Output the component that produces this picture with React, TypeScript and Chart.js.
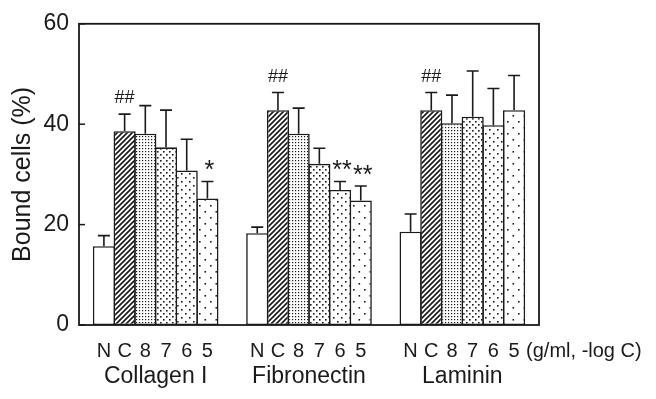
import React, { useEffect, useRef } from 'react';
import { Chart, registerables } from 'chart.js';

Chart.register(...registerables);

const groups = ['Collagen I', 'Fibronectin', 'Laminin'];
const conditions = ['N', 'C', '8', '7', '6', '5'];
const unitLabel = '(g/ml, -log C)';
const yTitle = 'Bound cells (%)';
const yTickValues = [0, 20, 40, 60];

// mean values per group, in condition order N, C, 8, 7, 6, 5
const collagenMean = [15.7, 38.6, 38.1, 35.4, 30.8, 25.2];
const fibronectinMean = [18.3, 42.8, 38.1, 32.1, 26.9, 24.8];
const lamininMean = [18.6, 42.8, 40.2, 41.5, 39.8, 42.8];

// upward error (SD)
const collagenErr = [2.1, 3.4, 5.6, 7.4, 6.2, 3.4];
const fibronectinErr = [1.2, 3.5, 5.1, 3.1, 1.7, 2.9];
const lamininErr = [3.5, 3.5, 5.6, 9.1, 7.3, 6.9];

// significance marks
const collagenMarks = ['', '##', '', '', '', '*'];
const fibronectinMarks = ['', '##', '', '', '**', '**'];
const lamininMarks = ['', '##', '', '', '', ''];

const means = [collagenMean, fibronectinMean, lamininMean];
const errs = [collagenErr, fibronectinErr, lamininErr];
const marks = [collagenMarks, fibronectinMarks, lamininMarks];

const FONT = '"Liberation Sans", Arial, Helvetica, sans-serif';
const INK = '#1a1a1a';

function makePattern(kind: string): CanvasPattern | string {
  if (kind === 'none') return '#ffffff';
  const c = document.createElement('canvas');
  let w = 6;
  let h = 6;
  if (kind === 'hatch') { w = 5; h = 5; }
  if (kind === 'dense') { w = 3; h = 3; }
  if (kind === 'mid') { w = 6; h = 6; }
  if (kind === 'sparse') { w = 8; h = 8; }
  if (kind === 'sparser') { w = 11; h = 12; }
  c.width = w;
  c.height = h;
  const g = c.getContext('2d')!;
  g.fillStyle = '#ffffff';
  g.fillRect(0, 0, w, h);
  g.fillStyle = INK;
  g.strokeStyle = INK;
  if (kind === 'hatch') {
    g.lineWidth = 1.6;
    g.beginPath();
    for (let k = -1; k <= 1; k++) {
      g.moveTo(k * w - 1, h + 1);
      g.lineTo(k * w + w + 1, -1);
    }
    g.stroke();
  } else if (kind === 'dense') {
    g.fillRect(1, 1, 1.2, 1.2);
  } else {
    g.fillRect(1, 1, 1.6, 1.6);
    g.fillRect(w / 2 + 1, h / 2 + 1, 1.6, 1.6);
  }
  return g.createPattern(c, 'repeat')!;
}

const patternKinds = ['none', 'hatch', 'dense', 'mid', 'sparse', 'sparser'];

const overlayPlugin = {
  id: 'overlay',
  afterDatasetsDraw(chart: any) {
    const { ctx, chartArea } = chart;
    const yScale = chart.scales.y;
    ctx.save();
    ctx.strokeStyle = INK;
    ctx.fillStyle = INK;

    // error bars and marks
    conditions.forEach((_, di) => {
      const meta = chart.getDatasetMeta(di);
      meta.data.forEach((bar: any, gi: number) => {
        const m = means[gi][di];
        const e = errs[gi][di];
        const yTop = yScale.getPixelForValue(m);
        const yErr = yScale.getPixelForValue(m + e);
        ctx.lineWidth = 1.6;
        ctx.beginPath();
        ctx.moveTo(bar.x, yTop);
        ctx.lineTo(bar.x, yErr);
        ctx.moveTo(bar.x - 6, yErr);
        ctx.lineTo(bar.x + 6, yErr);
        ctx.stroke();
        const mk = marks[gi][di];
        if (mk) {
          ctx.textAlign = 'center';
          ctx.textBaseline = 'middle';
          if (mk === '##') {
            ctx.font = `18px ${FONT}`;
            ctx.fillText(mk, bar.x, yErr - 16);
          } else {
            ctx.font = `25px ${FONT}`;
            ctx.fillText(mk, bar.x + 2, yErr - 10);
          }
        }
      });
    });

    // frame
    ctx.lineWidth = 1.8;
    ctx.strokeRect(chartArea.left, chartArea.top, chartArea.right - chartArea.left, chartArea.bottom - chartArea.top);

    // inward y ticks
    ctx.lineWidth = 1.5;
    yTickValues.forEach((v) => {
      const y = yScale.getPixelForValue(v);
      ctx.beginPath();
      ctx.moveTo(chartArea.left, y);
      ctx.lineTo(chartArea.left + 6, y);
      ctx.stroke();
    });

    // per-bar condition labels
    ctx.font = `20px ${FONT}`;
    ctx.textAlign = 'center';
    ctx.textBaseline = 'middle';
    conditions.forEach((lab, di) => {
      const meta = chart.getDatasetMeta(di);
      meta.data.forEach((bar: any) => {
        ctx.fillText(lab, bar.x, chartArea.bottom + 26);
      });
    });
    // unit label
    const lastMeta = chart.getDatasetMeta(conditions.length - 1);
    const lastBar = lastMeta.data[groups.length - 1];
    ctx.textAlign = 'left';
    ctx.fillText(unitLabel, lastBar.x + 12, chartArea.bottom + 26);
    ctx.restore();
  },
};

export default function App() {
  const ref = useRef<HTMLCanvasElement>(null);
  useEffect(() => {
    document.body.style.margin = '0';
    const canvas = ref.current!;
    const datasets = conditions.map((c, di) => ({
      label: c,
      data: means.map((g) => g[di]),
      backgroundColor: makePattern(patternKinds[di]) as any,
      borderColor: INK,
      borderWidth: 1.6,
      borderSkipped: false,
      categoryPercentage: 0.81,
      barPercentage: 1.07,
    }));
    const chart = new Chart(canvas, {
      type: 'bar',
      data: { labels: groups, datasets },
      options: {
        animation: false,
        responsive: true,
        maintainAspectRatio: false,
        layout: { padding: { left: 0, top: 15, right: 117, bottom: 0 } },
        plugins: { legend: { display: false }, tooltip: { enabled: false } },
        scales: {
          x: {
            type: 'category',
            grid: { display: false, drawTicks: false },
            border: { display: false },
            ticks: {
              color: INK,
              font: { family: FONT, size: 23 },
              padding: 38,
              maxRotation: 0,
              autoSkip: false,
            },
            afterFit: (s: any) => { s.height = 74; },
          },
          y: {
            min: 0,
            max: 60,
            grid: { display: false, drawTicks: false },
            border: { display: false },
            ticks: {
              stepSize: 20,
              color: INK,
              font: { family: FONT, size: 23 },
              padding: 10,
            },
            title: {
              display: true,
              text: yTitle,
              color: INK,
              font: { family: FONT, size: 25 },
              padding: { top: 8, bottom: 0 },
            },
            afterFit: (s: any) => { s.width = 79; },
          },
        },
      },
      plugins: [overlayPlugin],
    });
    return () => chart.destroy();
  }, []);
  return (
    <div style={{ position: 'absolute', left: 0, top: 0, width: 656, height: 399, background: '#fff' }}>
      <canvas ref={ref} />
    </div>
  );
}
